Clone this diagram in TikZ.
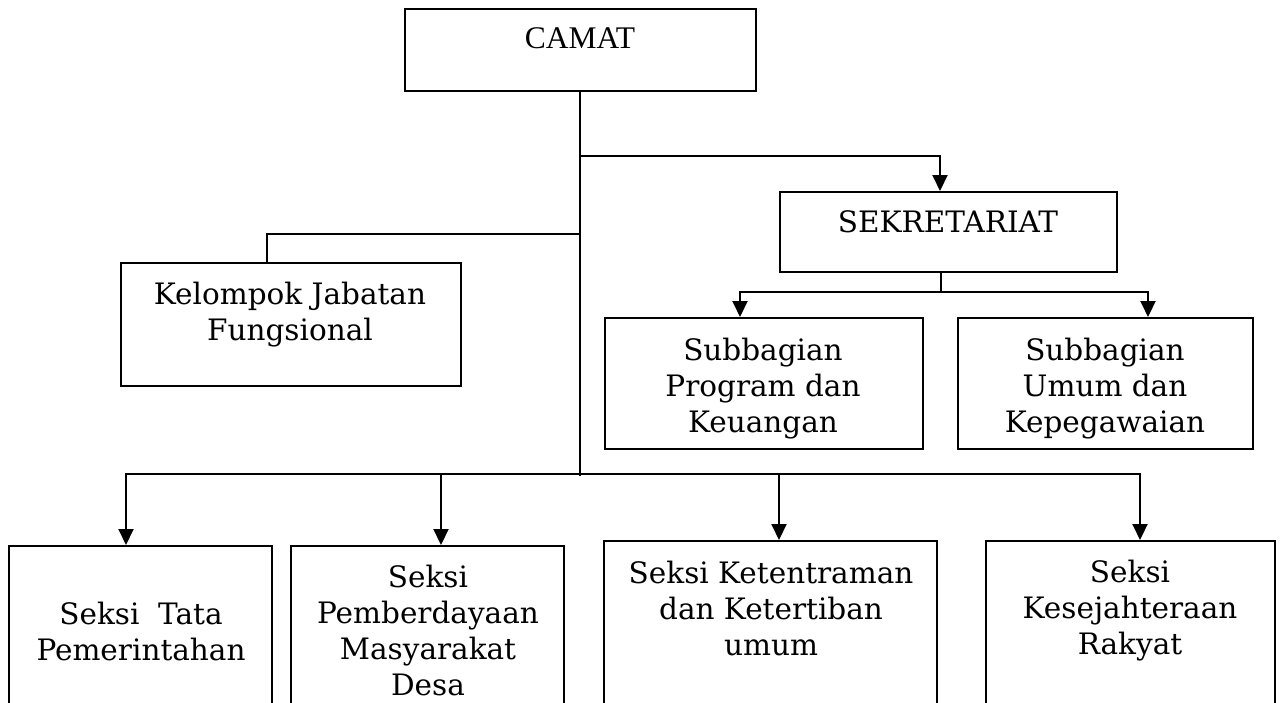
\documentclass[tikz,border=0pt]{standalone}
\usepackage{fontspec}
\setmainfont{DejaVu Serif}
\newfontfamily\timesf{Liberation Serif}
\usetikzlibrary{arrows.meta,calc}
\tikzset{
  box/.style={draw, line width=2pt, rectangle, inner sep=0pt},
  lbl/.style={align=center, inner sep=0pt, font=\fontsize{29.5}{36}\selectfont},
  conn/.style={line width=2pt},
  arr/.style={line width=2pt, -{Triangle[width=15pt,length=16pt]}},
}
\begin{document}
\begin{tikzpicture}[x=1pt,y=-1pt]
\useasboundingbox (0,0) rectangle (1281,702);
\clip (0,0) rectangle (1281,702);
% boxes
\node[box, minimum width=351pt, minimum height=82pt] (camat) at (580,50) {};
\node[box, minimum width=337pt, minimum height=80pt] (sek) at (948.5,232) {};
\node[box, minimum width=340pt, minimum height=123pt] (kjf) at (291,324.5) {};
\node[box, minimum width=318pt, minimum height=131pt] (sp) at (764,383.5) {};
\node[box, minimum width=295pt, minimum height=131pt] (su) at (1105.5,383.5) {};
\node[box, minimum width=263pt, minimum height=214pt] (s1) at (140.5,653) {};
\node[box, minimum width=273pt, minimum height=214pt] (s2) at (427.5,653) {};
\node[box, minimum width=333pt, minimum height=219pt] (s3) at (770.5,650.5) {};
\node[box, minimum width=289pt, minimum height=219pt] (s4) at (1130.5,650.5) {};
% texts
\node[lbl, font=\timesf\fontsize{31.5}{36}\selectfont] (camatt) at (580,38) {CAMAT};
\node[lbl] (sekt) at (948,222) {SEKRETARIAT};
\node[lbl] (kjft) at (290,314.5) {Kelompok Jabatan\\Fungsional};
\node[lbl] (spt) at (763,389) {Subbagian\\Program dan\\Keuangan};
\node[lbl] (sut) at (1105,389) {Subbagian\\Umum dan\\Kepegawaian};
\node[lbl] (s1t) at (141,631) {Seksi~ Tata\\Pemerintahan};
\node[lbl] (s2t) at (428,630) {Seksi\\Pemberdayaan\\Masyarakat\\Desa};
\node[lbl] (s3t) at (771,608) {Seksi Ketentraman\\dan Ketertiban\\umum};
\node[lbl] (s4t) at (1130,610.5) {Seksi\\Kesejahteraan\\Rakyat};
% junctions
\coordinate (jend) at (580,476);
\coordinate (jsek) at (580,156);
\coordinate (jkjf) at (580,234);
\coordinate (jbot) at (580,474);
\coordinate (jsub) at (941,292);
% connectors
\draw[conn] (camat.south) -- (jend);
\draw[arr] (jsek) -| ([xshift=-8.5pt]sek.north);
\draw[conn] (jkjf) -| ([xshift=-24pt]kjf.north);
\draw[conn] ([xshift=-7.5pt]sek.south) -- (jsub);
\draw[arr] (jsub) -| ([xshift=-24pt]sp.north);
\draw[arr] (jsub) -| ([xshift=42.5pt]su.north);
\draw[arr] (jbot) -| ([xshift=-14.5pt]s1.north);
\draw[arr] (jbot) -| ([xshift=13.5pt]s2.north);
\draw[arr] (jbot) -| ([xshift=8.5pt]s3.north);
\draw[arr] (jbot) -| ([xshift=9.5pt]s4.north);
\end{tikzpicture}
\end{document}
